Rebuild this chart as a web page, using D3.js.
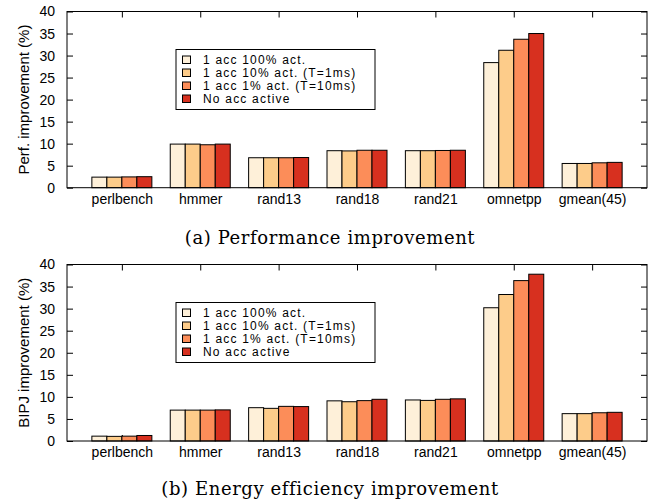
<!DOCTYPE html>
<html>
<head>
<meta charset="utf-8">
<script src="https://cdn.jsdelivr.net/npm/d3@7"></script>
<style>
  body { margin: 0; background: #fff; }
  svg { display: block; }
  .tick text { font-family: "Liberation Sans", Arial, sans-serif; font-size: 14px; fill: #000; }
  .domain { display: none; }
  .tick line { stroke: #000; }
</style>
</head>
<body>
<svg id="canvas" width="654" height="504"></svg>
<script>
// benchmarks on the x axis
const categories = ["perlbench", "hmmer", "rand13", "rand18", "rand21", "omnetpp", "gmean(45)"]
const seriesNames = [
    "1 acc 100% act.",
    "1 acc 10% act. (T=1ms)",
    "1 acc 1% act. (T=10ms)",
    "No acc active"
]
const colores = ["#fef0d9", "#fdcc8a", "#fc8d59", "#d7301f"]

// (a) performance improvement, one array per series
const perf100 = [2.4, 9.9, 6.8, 8.4, 8.4, 28.4, 5.5]
const perf10 = [2.4, 9.9, 6.8, 8.35, 8.4, 31.2, 5.5]
const perf1 = [2.45, 9.75, 6.8, 8.5, 8.45, 33.7, 5.65]
const perfNone = [2.5, 9.9, 6.85, 8.5, 8.5, 35.0, 5.75]

// (b) energy efficiency improvement
const bipj100 = [1.1, 7.0, 7.55, 9.1, 9.3, 30.2, 6.2]
const bipj10 = [1.05, 7.0, 7.4, 8.9, 9.2, 33.2, 6.2]
const bipj1 = [1.1, 7.0, 7.85, 9.15, 9.45, 36.35, 6.4]
const bipjNone = [1.25, 7.05, 7.8, 9.45, 9.55, 37.8, 6.5]

const yTicks = [0, 5, 10, 15, 20, 25, 30, 35, 40]

const svg = d3.select("#canvas")
const left = 67, right = 647
const barW = 15
const rowH = 13

const x = d3.scaleLinear().domain([-0.7, categories.length - 0.3]).range([left, right])

function panel(series, yLabel, top, bottom, caption, captionY) {
    const y = d3.scaleLinear().domain([0, 40]).range([bottom, top])
    const g = svg.append("g")

    g.append("g")
        .attr("transform", `translate(${left},0)`)
        .call(d3.axisLeft(y).tickValues(yTicks).tickSize(-6).tickPadding(12))
    g.append("g")
        .attr("transform", `translate(${right},0)`)
        .call(d3.axisRight(y).tickValues(yTicks).tickSize(-6).tickFormat(""))
    g.append("g")
        .attr("transform", `translate(0,${top})`)
        .call(d3.axisTop(x).tickValues(d3.range(categories.length)).tickSize(-6).tickFormat(""))
    g.append("g")
        .attr("transform", `translate(0,${bottom})`)
        .call(d3.axisBottom(x).tickValues(d3.range(categories.length)).tickSize(-6).tickPadding(6)
            .tickFormat(i => categories[i]))

    // barras
    series.forEach((vals, s) => {
        g.append("g").selectAll("rect")
            .data(vals)
            .enter()
            .append("rect")
            .attr("x", (d, i) => x(i) + (s - 2) * barW)
            .attr("y", d => y(d))
            .attr("width", barW)
            .attr("height", d => bottom - y(d))
            .attr("fill", colores[s])
            .attr("stroke", "#000")
            .attr("stroke-width", 1)
    })

    g.append("rect")
        .attr("x", left).attr("y", top)
        .attr("width", right - left).attr("height", bottom - top)
        .attr("fill", "none").attr("stroke", "#000").attr("stroke-width", 1)

    g.append("text")
        .attr("transform", `translate(23,${(top + bottom) / 2}) rotate(-90)`)
        .attr("text-anchor", "middle")
        .attr("dominant-baseline", "central")
        .style("font-family", "Liberation Sans, Arial, sans-serif")
        .style("font-size", "15px")
        .text(yLabel)

    // leyenda
    const lg = g.append("g").attr("transform", `translate(176,${top + 38})`)
    lg.append("rect")
        .attr("width", 199).attr("height", 60)
        .attr("fill", "#fff").attr("stroke", "#000")
    seriesNames.forEach((name, s) => {
        lg.append("rect")
            .attr("x", 6.5).attr("y", 6.5 + s * rowH)
            .attr("width", 8).attr("height", 7.5)
            .attr("fill", colores[s]).attr("stroke", "#000")
        lg.append("text")
            .attr("x", 27).attr("y", 14.5 + s * rowH)
            .style("font-family", "Liberation Sans, Arial, sans-serif")
            .style("font-size", "12px")
            .style("letter-spacing", "1.2px")
            .text(name)
    })

    svg.append("text")
        .attr("x", 330).attr("y", captionY)
        .attr("text-anchor", "middle")
        .style("font-family", "DejaVu Serif, serif")
        .style("font-size", "18px")
        .style("letter-spacing", "0.6px")
        .text(caption)
}

panel([perf100, perf10, perf1, perfNone], "Perf. improvement (%)", 11.5, 187.7,
    "(a) Performance improvement", 244)
panel([bipj100, bipj10, bipj1, bipjNone], "BIPJ improvement (%)", 264.5, 441,
    "(b) Energy efficiency improvement", 495)
</script>
</body>
</html>
